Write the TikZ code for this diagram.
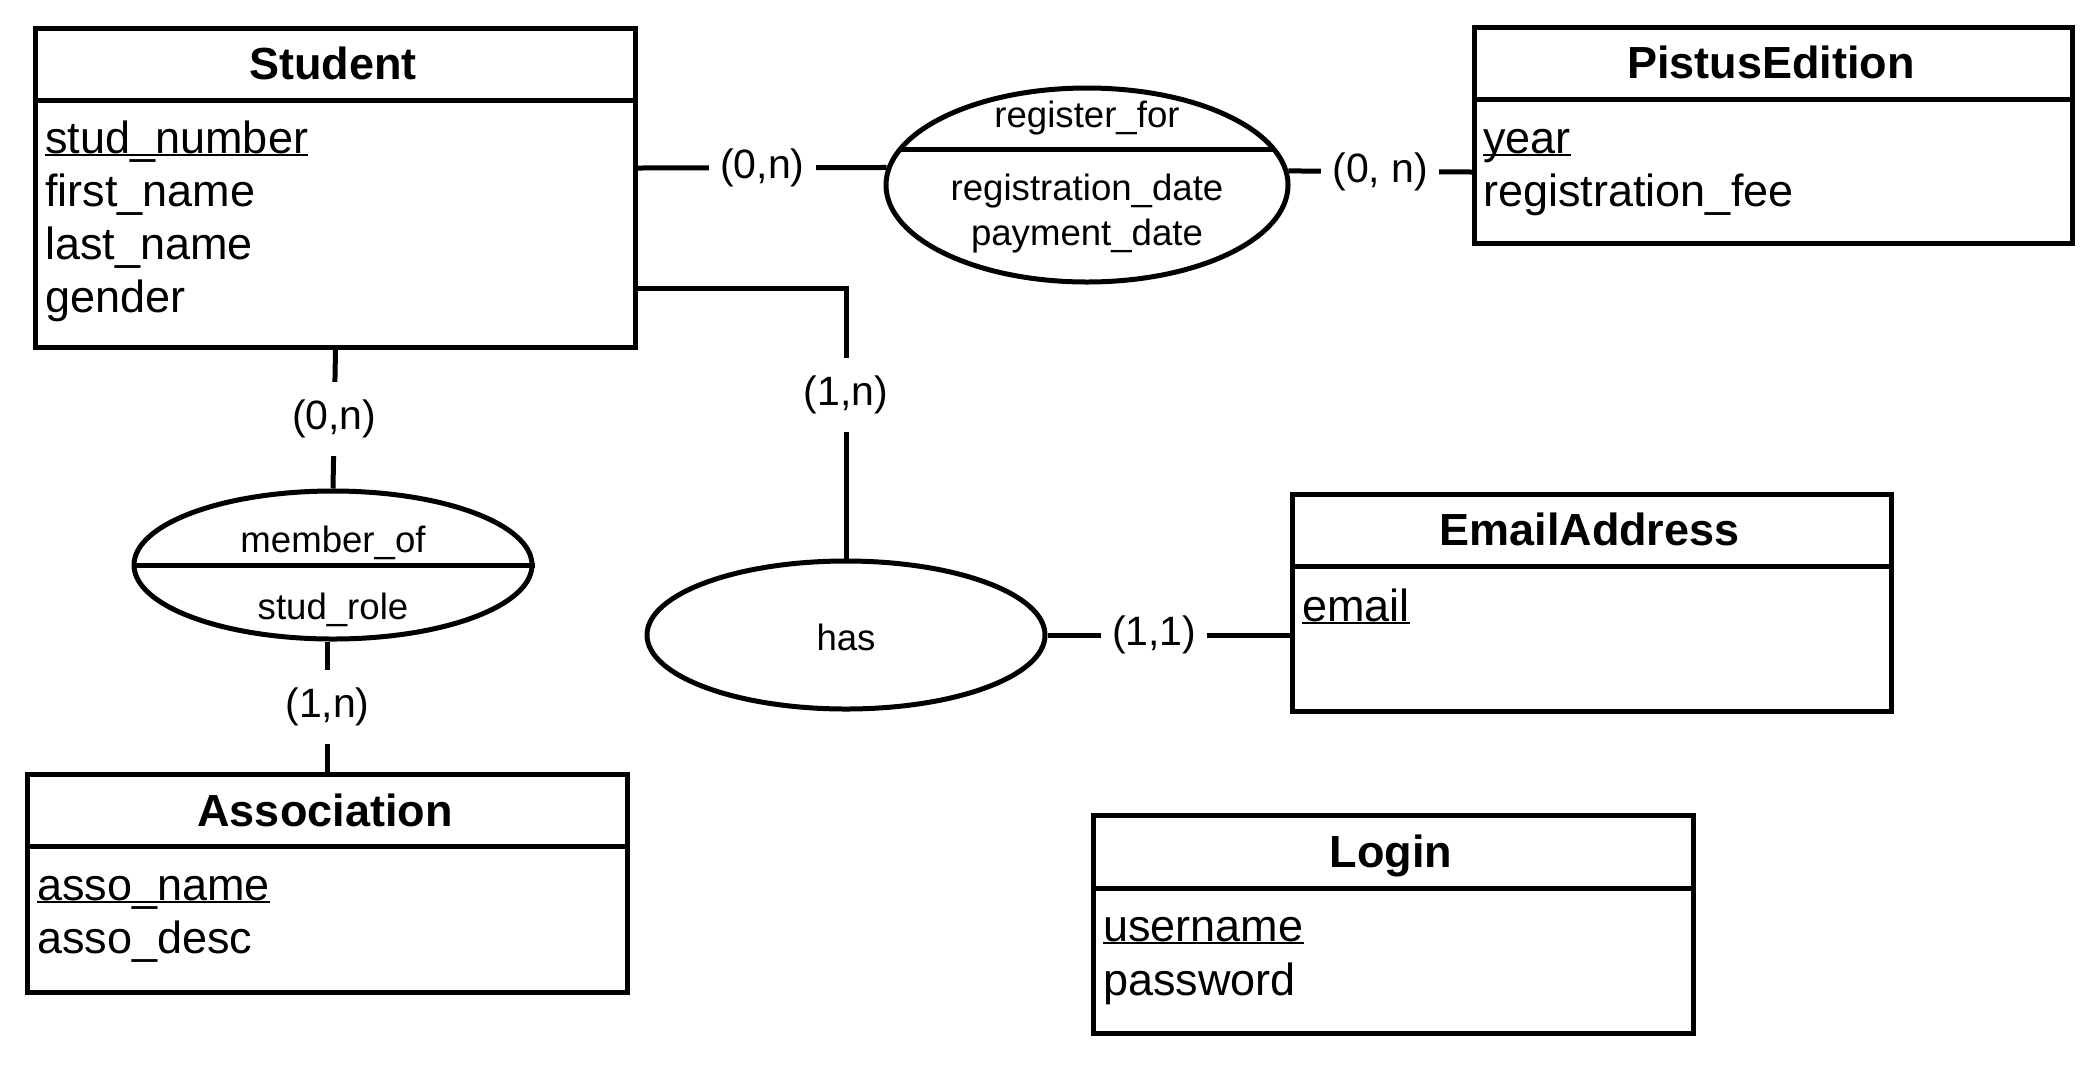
\documentclass[tikz,border=0pt]{standalone}
\usepackage{fontspec}
\setmainfont{Liberation Sans}
\usetikzlibrary{shapes.geometric}
\newcommand\entfont{\fontsize{22.5pt}{27pt}\selectfont}
\newcommand\relfont{\fontsize{18.3pt}{22pt}\selectfont}
\newcommand\cardfont{\fontsize{20.5pt}{24pt}\selectfont}
\newcommand\keyattr[1]{\setbox0\hbox{#1}\rlap{\rule[-1.7pt]{\wd0}{1.3pt}}\box0}
\tikzset{
  ent/.style={draw, line width=2.5pt, rectangle, inner sep=0pt, anchor=north west},
  ttl/.style={font=\entfont\bfseries, anchor=base, inner sep=0pt},
  att/.style={font=\entfont, anchor=base west, inner sep=0pt},
  rel/.style={draw, ellipse, line width=2.5pt, inner sep=0pt},
  rtxt/.style={font=\relfont, anchor=base, inner sep=0pt},
  card/.style={font=\cardfont, fill=white, inner xsep=5.5pt, inner ysep=9pt},
  conn/.style={line width=2.5pt}
}
\begin{document}
\begin{tikzpicture}[x=0.5pt, y=-0.5pt]
\useasboundingbox (0,0) rectangle (2097,1078);

% ---------- Entities ----------
% Student
\node[ent, minimum width=300pt, minimum height=159.5pt] (student) at (33,26) {};
\draw[conn] (student.west |- 0,100) -- (student.east |- 0,100);
\node[ttl] (studentT) at (333,79) {Student};
\node[att] (s1) at (45,153) {\keyattr{stud\_number}};
\node[att] (s2) at (45,206) {first\_name};
\node[att] (s3) at (45,259) {last\_name};
\node[att] (s4) at (45,312) {gender};

% PistusEdition
\node[ent, minimum width=299pt, minimum height=108pt] (pistus) at (1472,25) {};
\draw[conn] (pistus.west |- 0,99) -- (pistus.east |- 0,99);
\node[ttl] (pistusT) at (1771,78) {PistusEdition};
\node[att] (p1) at (1483,153) {\keyattr{year}};
\node[att] (p2) at (1483,206) {registration\_fee};

% EmailAddress
\node[ent, minimum width=299.5pt, minimum height=108.5pt] (email) at (1290,492) {};
\draw[conn] (email.west |- 0,566) -- (email.east |- 0,566);
\node[ttl] (emailT) at (1589.5,545) {EmailAddress};
\node[att] (e1) at (1302,621) {\keyattr{email}};

% Association
\node[ent, minimum width=300pt, minimum height=109pt] (assoc) at (25,772) {};
\draw[conn] (assoc.west |- 0,846) -- (assoc.east |- 0,846);
\node[ttl] (assocT) at (325,826) {Association};
\node[att] (a1) at (37,900) {\keyattr{asso\_name}};
\node[att] (a2) at (37,953) {asso\_desc};

% Login
\node[ent, minimum width=300pt, minimum height=109pt] (login) at (1091,813) {};
\draw[conn] (login.west |- 0,888) -- (login.east |- 0,888);
\node[ttl] (loginT) at (1391,867) {Login};
\node[att] (l1) at (1103,941) {\keyattr{username}};
\node[att] (l2) at (1103,995) {password};

% ---------- Relationships ----------
\node[rel, minimum width=201pt, minimum height=97pt] (reg) at (1087,185) {};
\draw[conn] (900.4,149) -- (1273.6,149);
\node[rtxt] (regT) at (1087,127) {register\_for};
\node[rtxt] (regA1) at (1087,200) {registration\_date};
\node[rtxt] (regA2) at (1087,245) {payment\_date};

\node[rel, minimum width=199pt, minimum height=74pt] (mof) at (333,565) {};
\draw[conn] (mof.west) -- (mof.east);
\node[rtxt] (mofT) at (333,552) {member\_of};
\node[rtxt] (mofA) at (333,619) {stud\_role};

\node[rel, minimum width=199pt, minimum height=74pt] (has) at (846,635) {};
\node[rtxt] (hasT) at (846,650) {has};

% ---------- Connectors ----------
\draw[conn] (student.east |- 0,168) -- node[card] (c1) {(0,n)} (reg.175);
\draw[conn] (reg.4) -- node[card] (c2) {(0, n)} (pistus.west |- 0,172);
\draw[conn] (student.east |- 0,288) -| node[card, pos=0.698] (c3) {(1,n)} (has.north);
\draw[conn] (student.south) -- node[card] (c4) {(0,n)} (mof.north);
\draw[conn] (assoc.north |- mof.south) -- node[card] (c5) {(1,n)} (assoc.north);
\draw[conn] (has.east) -- node[card, pos=0.44] (c6) {(1,1)} (has.east -| email.west);
\end{tikzpicture}
\end{document}
